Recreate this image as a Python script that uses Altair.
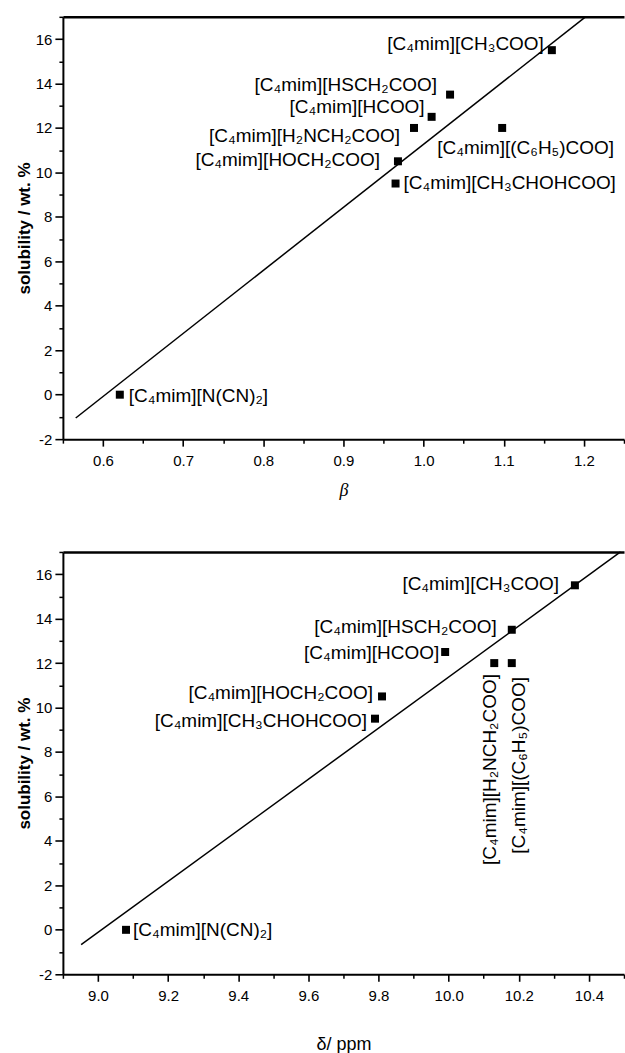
import altair as alt
import pandas as pd

# ---------------- data ----------------
names = [
    "[C₄mim][CH₃COO]",
    "[C₄mim][HSCH₂COO]",
    "[C₄mim][HCOO]",
    "[C₄mim][H₂NCH₂COO]",
    "[C₄mim][(C₆H₅)COO]",
    "[C₄mim][HOCH₂COO]",
    "[C₄mim][CH₃CHOHCOO]",
    "[C₄mim][N(CN)₂]",
]
solubility = [15.5, 13.5, 12.5, 12.0, 12.0, 10.5, 9.5, 0.0]
beta = [1.16, 1.033, 1.01, 0.988, 1.098, 0.968, 0.965, 0.621]
delta = [10.36, 10.18, 9.99, 10.13, 10.18, 9.81, 9.79, 9.08]

beta_fit_x = [0.566, 1.202]
beta_fit_y = [-1.05, 17.0]
delta_fit_x = [8.952, 10.49]
delta_fit_y = [-0.67, 17.0]

beta_major = [0.6, 0.7, 0.8, 0.9, 1.0, 1.1, 1.2]
beta_minor = [0.55, 0.65, 0.75, 0.85, 0.95, 1.05, 1.15, 1.25]
delta_major = [9.0, 9.2, 9.4, 9.6, 9.8, 10.0, 10.2, 10.4]
delta_minor = [8.9, 9.1, 9.3, 9.5, 9.7, 9.9, 10.1, 10.3, 10.5]
y_major = [-2, 0, 2, 4, 6, 8, 10, 12, 14, 16]
y_minor = [-1, 1, 3, 5, 7, 9, 11, 13, 15, 17]

# ---------------- label styles (align, dx, dy, angle) ----------------
top_styles = [
    ("right", -8, -6, 0),
    ("right", -13, -10, 0),
    ("right", -7, -10, 0),
    ("right", -14, 8, 0),
    ("left", -65, 20, 0),
    ("right", -18, -1, 0),
    ("left", 8, -1, 0),
    ("left", 9, 1, 0),
]
bottom_styles = [
    ("right", -16, -1, 0),
    ("right", -15, -3, 0),
    ("right", -6, 1, 0),
    ("right", -11, -4, 270),
    ("right", -14, 7, 270),
    ("right", -9, -3, 0),
    ("right", -8, 2, 0),
    ("left", 7, 0, 0),
]

FONT = "Liberation Sans"
W, H = 562, 423


def panel(xvals, xdom, xmajor, xminor, xtitle, title_font, title_style,
          title_pad, fit_x, fit_y, styles):
    df = pd.DataFrame({"x": xvals, "y": solubility, "name": names,
                       "idx": list(range(len(names)))})
    fit = pd.DataFrame({"x": fit_x, "y": fit_y})
    xs = alt.Scale(domain=xdom, nice=False, zero=False)
    ys = alt.Scale(domain=[-2, 17], nice=False, zero=False)

    pts = alt.Chart(df).mark_square(size=64, color="black", opacity=1).encode(
        x=alt.X("x:Q", scale=xs, axis=alt.Axis(
            values=xmajor, orient="bottom", format=".1f", tickSize=7,
            tickWidth=1.6, labelPadding=7, domainWidth=2,
            title=xtitle, titleFont=title_font, titleFontStyle=title_style,
            titleFontSize=18, titleFontWeight="normal", titlePadding=title_pad)),
        y=alt.Y("y:Q", scale=ys, axis=alt.Axis(
            values=y_major, orient="left", labelExpr="'' + datum.value",
            tickSize=8, tickWidth=1.6, labelPadding=3, domainWidth=2,
            title="solubility / wt. %", titleFont=FONT, titleFontSize=17,
            titleFontWeight="bold", titlePadding=2)),
    )
    line = alt.Chart(fit).mark_line(color="black", strokeWidth=1.5).encode(
        x=alt.X("x:Q", scale=xs, axis=alt.Axis(
            values=xminor, orient="bottom", labels=False, domain=False,
            tickSize=4, tickWidth=1.5, title=None)),
        y=alt.Y("y:Q", scale=ys, axis=alt.Axis(
            values=y_minor, orient="left", labels=False, domain=False,
            tickSize=4, tickWidth=1.5, title=None)),
    )
    layers = [line, pts]
    for i, (al, dx, dy, ang) in enumerate(styles):
        if i == 0:
            xaxis = alt.Axis(orient="top", labels=False, ticks=False,
                             domain=True, domainWidth=2.6, title=None)
        else:
            xaxis = None
        t = alt.Chart(df).transform_filter(alt.datum.idx == i).mark_text(
            align=al, baseline="middle", dx=dx, dy=dy, angle=ang,
            font=FONT, fontSize=19, color="black").encode(
            x=alt.X("x:Q", scale=xs, axis=xaxis),
            y=alt.Y("y:Q", scale=ys, axis=None),
            text="name:N",
        )
        layers.append(t)
    return alt.layer(*layers).resolve_axis(
        x="independent", y="independent").properties(width=W, height=H)


top = panel(beta, [0.55, 1.25], beta_major, beta_minor, "β",
            "Liberation Serif", "italic", 13,
            beta_fit_x, beta_fit_y, top_styles)
bottom = panel(delta, [8.9, 10.5], delta_major, delta_minor, "δ/ ppm",
               FONT, "normal", 32, delta_fit_x, delta_fit_y, bottom_styles)

chart = alt.vconcat(top, bottom, spacing=50).properties(
    padding={"left": 15, "top": 13, "right": 0, "bottom": 0}
).configure_view(strokeWidth=0).configure_axis(
    labelFont=FONT, labelFontSize=15, labelColor="black",
    tickColor="black", domainColor="black", titleColor="black", grid=False,
)

chart.save("out.html", embed_options={"renderer": "svg", "actions": False})
